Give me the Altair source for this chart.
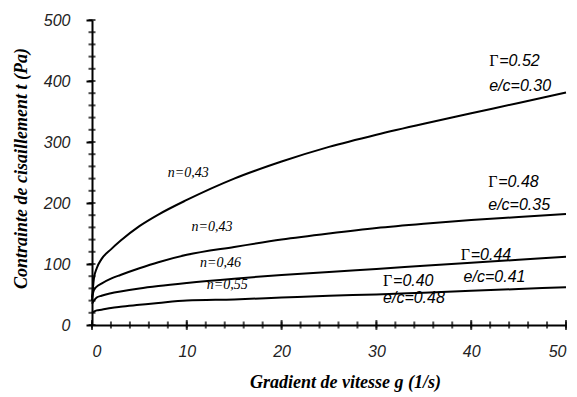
import altair as alt
import pandas as pd

# shear rate values (1/s)
x_vals = [0, 0.2, 0.5, 1, 2, 3, 5, 7, 10, 15, 20, 25, 30, 35, 40, 45, 50]
# shear stress (Pa) for each e/c ratio
s_030 = [40, 76, 93, 108, 124, 138, 162, 181, 205, 240, 268, 292, 312, 330, 347, 364, 381]
s_035 = [45, 57, 63, 68, 76, 82, 93, 103, 115, 128, 140, 150, 159, 166, 172, 177, 182]
s_041 = [35, 40, 45, 48, 52, 55, 60, 64, 69, 76, 82, 87, 92, 97, 102, 107, 112]
s_048 = [20, 22, 24, 25, 28, 30, 33, 36, 40, 42, 45, 48, 50, 53, 56, 59, 62]
series_names = ["e/c=0.30", "e/c=0.35", "e/c=0.41", "e/c=0.48"]

# series annotations
gamma_vals = ["=0.52", "=0.48", "=0.44", "=0.40"]
gamma_x = [41.9, 41.8, 38.9, 30.7]
gamma_y = [432, 234, 115, 72]
ec_x = [41.9, 41.8, 39.2, 30.7]
ec_y = [391, 197, 79, 44]
n_labels = ["n=0,43", "n=0,43", "n=0,46", "n=0,55"]
n_x = [8.0, 10.5, 11.4, 12.1]
n_y = [250, 161, 102, 66]

y_major = [0, 100, 200, 300, 400, 500]
y_minor = list(range(0, 501, 20))
x_major = [0, 10, 20, 30, 40, 50]
x_minor = list(range(0, 51, 2))

rows = []
for name, ys in zip(series_names, [s_030, s_035, s_041, s_048]):
    for x, y in zip(x_vals, ys):
        rows.append({"series": name, "x": x, "y": y})
df = pd.DataFrame(rows)

xs = alt.Scale(domain=[0, 50], nice=False, zero=False)
ys = alt.Scale(domain=[0, 500], nice=False, zero=False)

lines = alt.Chart(df).mark_line(color="black", strokeWidth=2, interpolate="monotone").encode(
    x=alt.X("x:Q", scale=xs, axis=alt.Axis(
        values=x_major, ticks=False, labelPadding=18, format="d",
        title="Gradient de vitesse  g (1/s)", titleX=253, titleY=57,
        titleBaseline="middle", titleAlign="center")),
    y=alt.Y("y:Q", scale=ys, axis=alt.Axis(
        values=y_major, tickSize=6, tickWidth=2, tickColor="black", labelPadding=16, format="d",
        title="Contrainte de cisaillement  t (Pa)", titleX=-71, titleY=148,
        titleBaseline="middle", titleAlign="center", titleAngle=-90)),
    detail="series:N",
)

ytick_df = pd.DataFrame({"x": [0] * len(y_minor), "y": y_minor})
xtick_df = pd.DataFrame({"x": x_minor, "y": [0] * len(x_minor)})
xmaj_df = pd.DataFrame({"x": x_major, "y": [0] * len(x_major)})

yticks = alt.Chart(ytick_df).mark_tick(orient="horizontal", size=7, thickness=2, color="black").encode(
    x=alt.X("x:Q", scale=xs), y=alt.Y("y:Q", scale=ys))
xticks = alt.Chart(xtick_df).mark_tick(orient="vertical", size=7, thickness=2, color="black").encode(
    x=alt.X("x:Q", scale=xs), y=alt.Y("y:Q", scale=ys))
xmaj = alt.Chart(xmaj_df).mark_tick(orient="vertical", size=10, thickness=2, color="black").encode(
    x=alt.X("x:Q", scale=xs), y=alt.Y("y:Q", scale=ys))

gdf = pd.DataFrame({"x": gamma_x, "y": gamma_y, "t": gamma_vals})
edf = pd.DataFrame({"x": ec_x, "y": ec_y, "t": series_names})
ndf = pd.DataFrame({"x": n_x, "y": n_y, "t": n_labels})

gsym = alt.Chart(gdf).mark_text(text="Γ", font="Liberation Serif", fontSize=16, align="left",
                                baseline="middle", color="black").encode(
    x=alt.X("x:Q", scale=xs), y=alt.Y("y:Q", scale=ys))
gval = alt.Chart(gdf).mark_text(font="Liberation Sans", fontStyle="italic", fontSize=16, align="left",
                                baseline="middle", dx=10, color="black").encode(
    x=alt.X("x:Q", scale=xs), y=alt.Y("y:Q", scale=ys), text="t:N")
etxt = alt.Chart(edf).mark_text(font="Liberation Sans", fontStyle="italic", fontSize=16, align="left",
                                baseline="middle", color="black").encode(
    x=alt.X("x:Q", scale=xs), y=alt.Y("y:Q", scale=ys), text="t:N")
ntxt = alt.Chart(ndf).mark_text(font="Liberation Serif", fontStyle="italic", fontSize=14, align="left",
                                baseline="middle", color="black").encode(
    x=alt.X("x:Q", scale=xs), y=alt.Y("y:Q", scale=ys), text="t:N")

chart = alt.layer(lines, yticks, xticks, xmaj, gsym, gval, etxt, ntxt).properties(
    width=474, height=305,
    autosize=alt.AutoSizeParams(type="none"),
    padding={"left": 84, "top": 12, "right": 3, "bottom": 72},
    background="white",
).configure_view(stroke=None).configure_axis(
    grid=False, domainColor="black", domainWidth=2,
    labelFont="Liberation Sans", labelFontStyle="italic", labelFontSize=16, labelColor="#222",
    labelFontWeight="normal",
    titleFont="Liberation Serif", titleFontStyle="italic", titleFontWeight="bold",
    titleFontSize=18, titleColor="black",
)

chart.save("out.html", embed_options={"renderer": "svg", "actions": False})
